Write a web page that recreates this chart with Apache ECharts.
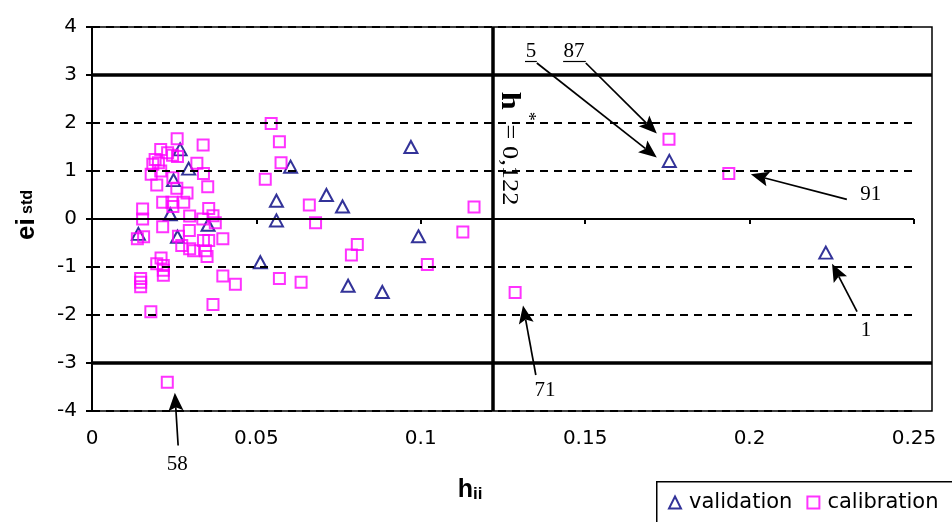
<!DOCTYPE html>
<html>
<head>
<meta charset="utf-8">
<script src="https://cdn.jsdelivr.net/npm/echarts@6/dist/echarts.min.js"></script>
<style>html,body{margin:0;padding:0;background:#fff}#c{width:952px;height:522px}</style>
</head>
<body>
<div id="c"></div>
<script>
// ---- data ----
const calibration = [
  [0.0259,1.67],[0.0338,1.54],[0.0209,1.45],[0.0230,1.38],[0.0260,1.30],[0.0245,1.33],[0.0192,1.24],
  [0.0202,1.17],[0.0185,1.14],[0.0319,1.16],[0.0180,0.93],[0.0209,1.00],[0.0246,0.86],[0.0339,0.95],
  [0.0197,0.71],[0.0258,0.64],[0.0352,0.67],[0.0289,0.54],[0.0154,0.21],[0.0215,0.35],[0.0243,0.35],
  [0.0279,0.35],[0.0246,0.26],[0.0154,0.00],[0.0297,0.06],[0.0355,0.22],[0.0337,0.00],[0.0368,0.07],
  [0.0375,-0.08],[0.0215,-0.16],[0.0138,-0.41],[0.0157,-0.37],[0.0263,-0.36],[0.0296,-0.24],[0.0273,-0.55],
  [0.0297,-0.62],[0.0309,-0.66],[0.0339,-0.45],[0.0355,-0.45],[0.0345,-0.66],[0.0350,-0.78],[0.0398,-0.41],
  [0.0210,-0.81],[0.0197,-0.93],[0.0217,-0.97],[0.0217,-1.07],[0.0217,-1.17],[0.0148,-1.24],[0.0148,-1.32],
  [0.0148,-1.41],[0.0398,-1.19],[0.0436,-1.36],[0.0368,-1.78],[0.0179,-1.93],[0.0229,-3.40],
  [0.0545,1.99],[0.0570,1.61],[0.0575,1.17],[0.0527,0.83],[0.0661,0.29],[0.0680,-0.08],[0.0807,-0.53],
  [0.0789,-0.75],[0.1020,-0.95],[0.0570,-1.24],[0.0636,-1.32],[0.1128,-0.27],[0.1162,0.25],[0.1287,-1.53],
  [0.1755,1.66],[0.1937,0.95]
];
const validation = [
  [0.0268,1.45],[0.0294,1.05],[0.0248,0.81],[0.0238,0.10],[0.0141,-0.31],[0.0260,-0.37],[0.0353,-0.12],
  [0.0604,1.09],[0.0970,1.50],[0.0561,0.38],[0.0561,-0.03],[0.0713,0.50],[0.0762,0.26],[0.0993,-0.36],
  [0.0512,-0.90],[0.0779,-1.39],[0.0883,-1.52],[0.1756,1.21],[0.2232,-0.70]
];
const xTicks = [0, 0.05, 0.1, 0.15, 0.2, 0.25];
const xTickLabels = ['0', '0.05', '0.1', '0.15', '0.2', '0.25'];
const xAxisMax = 0.25;
const xFrameMax = 0.2555;
const yMin = -4, yMax = 4, yStep = 1;
const hStar = 0.122;
const hStarValue = '= 0,122';
const dashedLevels = [-4, -2, -1, 1, 2, 4];
const limitLevels = [-3, 3];
// arrows: [fromX, fromY, tipX, tipY]
const arrows = [
  [0.1353, 3.25, 0.1718, 1.28],
  [0.1502, 3.25, 0.1718, 1.78],
  [0.2296, 0.41, 0.2004, 0.93],
  [0.2327, -1.93, 0.2251, -0.93],
  [0.1350, -3.25, 0.1311, -1.80],
  [0.0262, -4.72, 0.0252, -3.62]
];
// annotation labels: [text, x, y]
const annLabels = [
  ['5', 0.1335, 3.48], ['87', 0.1466, 3.48], ['91', 0.2369, 0.52],
  ['1', 0.2354, -2.32], ['71', 0.1378, -3.58], ['58', 0.0259, -5.11]
];
// underlines: [x1, x2, y]
const underlines = [[0.1317, 0.1353, 3.29], [0.1433, 0.1502, 3.29]];
const hLabelPos = [0.1268, 2.65];
const starLabelPos = [0.1326, 2.14];
const valueLabelPos = [0.1268, 1.97];

// ---- chart ----
const chart = echarts.init(document.getElementById('c'));
const mlData = [];
dashedLevels.forEach(v => mlData.push([
  {coord: [0, v], lineStyle: {color: '#000', width: 2, type: [8, 6]}},
  {coord: [xAxisMax, v]}
]));
mlData.push([
  {coord: [0, 0], lineStyle: {color: '#000', width: 2, type: 'solid'}},
  {coord: [xAxisMax, 0]}
]);
limitLevels.forEach(v => mlData.push([
  {coord: [0, v], lineStyle: {color: '#000', width: 3.5, type: 'solid'}},
  {coord: [xFrameMax, v]}
]));
mlData.push([
  {coord: [hStar, yMin], lineStyle: {color: '#000', width: 3.5, type: 'solid'}},
  {coord: [hStar, yMax]}
]);
underlines.forEach(u => mlData.push([
  {coord: [u[0], u[2]], lineStyle: {color: '#000', width: 1.2, type: 'solid'}},
  {coord: [u[1], u[2]]}
]));

const tickFont = {fontFamily: 'DejaVu Sans', fontSize: 20, color: '#000'};
const legendLeft = 656, legendTop = 481;

const option = {
  animation: false,
  backgroundColor: '#fff',
  grid: {left: 92, right: 20, top: 27, bottom: 111, show: true, borderColor: '#000', borderWidth: 1.5, backgroundColor: 'rgba(0,0,0,0)'},
  xAxis: [{
    type: 'value', min: 0, max: xFrameMax, position: 'bottom',
    axisLine: {show: false, onZero: true},
    axisTick: {show: true, customValues: xTicks, length: 5, lineStyle: {color: '#000', width: 2}},
    axisLabel: {show: false},
    splitLine: {show: false}
  }, {
    type: 'value', min: 0, max: xFrameMax, position: 'bottom',
    axisLine: {show: false, onZero: false},
    axisTick: {show: false},
    axisLabel: Object.assign({show: true, margin: 18, customValues: xTicks,
      formatter: v => { const i = xTicks.findIndex(t => Math.abs(t - v) < 1e-9); return i >= 0 ? xTickLabels[i] : ''; }}, tickFont),
    splitLine: {show: false},
    name: '{a|h}{b|ii}', nameLocation: 'middle', nameGap: 67,
    nameTextStyle: {padding: [0, 84, 0, 0], rich: {
      a: {fontFamily: 'Liberation Sans', fontSize: 25, fontWeight: 'bold', color: '#000', verticalAlign: 'top', lineHeight: 25, padding: [0, 0, 5, 0]},
      b: {fontFamily: 'Liberation Sans', fontSize: 17, fontWeight: 'bold', color: '#000', verticalAlign: 'bottom', lineHeight: 17}
    }}
  }],
  yAxis: {
    type: 'value', min: yMin, max: yMax, interval: yStep,
    axisLine: {show: true, onZero: false, lineStyle: {color: '#000', width: 2}},
    axisTick: {show: true, length: 6, lineStyle: {color: '#000', width: 2}},
    axisLabel: Object.assign({margin: 15}, tickFont),
    splitLine: {show: false},
    name: '{a|ei}{b| std}', nameLocation: 'middle', nameRotate: 90, nameGap: 52,
    nameTextStyle: {padding: [0, 0, 0, 8], rich: {
      a: {fontFamily: 'Liberation Sans', fontSize: 26, fontWeight: 'bold', color: '#000', verticalAlign: 'bottom', lineHeight: 26},
      b: {fontFamily: 'Liberation Sans', fontSize: 16, fontWeight: 'bold', color: '#000', verticalAlign: 'bottom', lineHeight: 16, padding: [0, 0, 4, 0]}
    }}
  },
  legend: {
    left: legendLeft, top: legendTop, orient: 'horizontal', width: 600,
    padding: [11, 10, 11, 12],
    borderWidth: 0,
    itemWidth: 12, itemHeight: 12, itemGap: 14,
    textStyle: {fontFamily: 'DejaVu Sans', fontSize: 21, color: '#000', padding: [0, 0, 0, 3]},
    data: [
      {name: 'validation', icon: 'triangle', itemStyle: {color: 'rgba(0,0,0,0)', borderColor: '#000080', borderWidth: 2}},
      {name: 'calibration', icon: 'rect', itemStyle: {color: 'rgba(0,0,0,0)', borderColor: '#ff00ff', borderWidth: 2}}
    ]
  },
  series: [{
    name: 'validation', type: 'scatter', data: validation, xAxisIndex: 0, yAxisIndex: 0,
    symbol: 'triangle', symbolSize: [13, 12],
    itemStyle: {color: 'rgba(0,0,0,0)', borderColor: '#000080', borderWidth: 2},
    emphasis: {disabled: true}, z: 3
  }, {
    name: 'calibration', type: 'scatter', data: calibration, xAxisIndex: 0, yAxisIndex: 0,
    symbol: 'rect', symbolSize: 11, clip: false,
    itemStyle: {color: 'rgba(0,0,0,0)', borderColor: '#ff00ff', borderWidth: 2},
    emphasis: {disabled: true}, z: 4,
    markLine: {
      silent: true, animation: false, symbol: ['none', 'none'],
      label: {show: false}, emphasis: {disabled: true},
      data: mlData
    }
  }]
};
chart.setOption(option);

const toPx = p => chart.convertToPixel({xAxisIndex: 0, yAxisIndex: 0}, p);
const graphics = [];
// legend frame: only top and left edges fall inside the picture
graphics.push({type: 'polyline', z: 1, silent: true,
  shape: {points: [[legendLeft + 0.75, 600], [legendLeft + 0.75, legendTop + 0.75], [1200, legendTop + 0.75]]},
  style: {fill: null, stroke: '#000', lineWidth: 1.5}});
// arrows (positions from data coordinates through the axes)
arrows.forEach(a => {
  const s = toPx([a[0], a[1]]), t = toPx([a[2], a[3]]);
  const dx = t[0] - s[0], dy = t[1] - s[1], len = Math.hypot(dx, dy);
  const ux = dx / len, uy = dy / len, nx = -uy, ny = ux;
  const L = 18, W = 7.5;
  const bx = t[0] - ux * L, by = t[1] - uy * L;
  const mx = t[0] - ux * L * 0.8, my = t[1] - uy * L * 0.8;
  graphics.push({type: 'line', z: 20, shape: {x1: s[0], y1: s[1], x2: mx, y2: my}, style: {stroke: '#000', lineWidth: 1.7}});
  graphics.push({type: 'polygon', z: 20, shape: {points: [t, [bx + nx * W, by + ny * W], [mx, my], [bx - nx * W, by - ny * W]]}, style: {fill: '#000'}});
});
annLabels.forEach(([txt, x, y]) => {
  const p = toPx([x, y]);
  graphics.push({type: 'text', x: p[0], y: p[1], z: 20,
    style: {text: txt, fontFamily: 'Liberation Serif', fontSize: 21, fill: '#000', align: 'center', verticalAlign: 'middle'}});
});
const hp = toPx(hLabelPos), sp = toPx(starLabelPos), vp = toPx(valueLabelPos);
graphics.push({type: 'text', x: hp[0], y: hp[1], rotation: -Math.PI / 2, scaleX: 1.2, z: 20,
  style: {text: 'h', fontFamily: 'Liberation Serif', fontSize: 27, fontWeight: 'bold', fill: '#000', align: 'left', verticalAlign: 'middle'}});
graphics.push({type: 'text', x: sp[0], y: sp[1], rotation: -Math.PI / 2, z: 20,
  style: {text: '*', fontFamily: 'Liberation Serif', fontSize: 18, fill: '#000', align: 'center', verticalAlign: 'middle'}});
graphics.push({type: 'text', x: vp[0], y: vp[1], rotation: -Math.PI / 2, scaleX: 1.1, z: 20,
  style: {text: hStarValue, fontFamily: 'Liberation Serif', fontSize: 24, fill: '#000', align: 'left', verticalAlign: 'middle'}});
chart.setOption({graphic: graphics});
</script>
</body>
</html>
